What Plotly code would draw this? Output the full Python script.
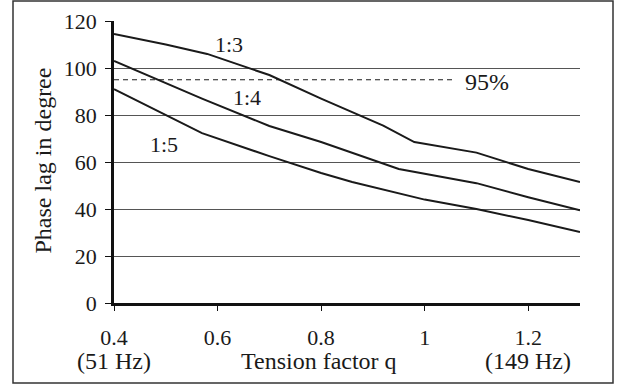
import plotly.graph_objects as go

# Data
q_13 = [0.40, 0.50, 0.58, 0.70, 0.80, 0.92, 0.98, 1.10, 1.20, 1.30]
lag_13 = [114.5, 110.0, 106.0, 97.0, 87.0, 75.5, 68.5, 64.0, 57.0, 51.5]

q_14 = [0.40, 0.57, 0.70, 0.80, 0.95, 1.10, 1.20, 1.30]
lag_14 = [103.0, 87.0, 75.3, 68.5, 57.0, 51.0, 45.0, 39.5]

q_15 = [0.40, 0.57, 0.70, 0.80, 0.86, 1.00, 1.10, 1.20, 1.30]
lag_15 = [91.0, 72.3, 62.5, 55.3, 51.5, 44.0, 40.0, 35.3, 30.2]

ref_q = [0.40, 1.055]
ref_lag = [95, 95]

x_tickvals = [0.4, 0.6, 0.8, 1.0, 1.2]
x_ticktext = ["0.4", "0.6", "0.8", "1", "1.2"]
freq_q = [0.4, 1.2]
freq_text = ["(51 Hz)", "(149 Hz)"]
y_tickvals = [0, 20, 40, 60, 80, 100, 120]

FONT = "Liberation Serif"
LINE = "#1a1a1a"
TXT = "#1a1a1a"

# pixel helpers for paper coordinates (plot area 114..580 x 21..303)
def py(p):
    return (303 - p) / 282

def px(p):
    return (p - 114) / 466

fig = go.Figure()
for xs, ys in [(q_13, lag_13), (q_14, lag_14), (q_15, lag_15)]:
    fig.add_trace(go.Scatter(x=xs, y=ys, mode="lines",
                             line=dict(color=LINE, width=2), showlegend=False))
fig.add_trace(go.Scatter(x=ref_q, y=ref_lag, mode="lines",
                         line=dict(color=LINE, width=1, dash="5px,4px"), showlegend=False))

labels = [("1:3", 0.622, 110, 22), ("1:4", 0.657, 87.4, 22), ("1:5", 0.497, 67.4, 22),
          ("95%", 1.12, 94.0, 24)]
for t, x, y, s in labels:
    fig.add_annotation(x=x, y=y, text=t, showarrow=False,
                       xanchor="center", yanchor="middle",
                       font=dict(family=FONT, size=s, color=TXT))

for q, t in zip(freq_q, freq_text):
    fig.add_annotation(x=q, xref="x", yref="paper", y=py(360.5), text=t, showarrow=False,
                       xanchor="center", yanchor="middle",
                       font=dict(family=FONT, size=24, color=TXT))

fig.add_annotation(xref="paper", yref="paper", x=px(318.5), y=py(360.5),
                   text="Tension factor q", showarrow=False,
                   xanchor="center", yanchor="middle",
                   font=dict(family=FONT, size=24, color=TXT))
fig.add_annotation(xref="paper", yref="paper", x=px(42.5), y=py(161),
                   text="Phase lag in degree", showarrow=False, textangle=-90,
                   xanchor="center", yanchor="middle",
                   font=dict(family=FONT, size=24, color=TXT))

# outer border
fig.add_shape(type="rect", xref="paper", yref="paper",
              x0=px(13), x1=px(613), y0=py(383), y1=py(1),
              line=dict(color="#333333", width=1.5), fillcolor="rgba(0,0,0,0)")

fig.update_xaxes(range=[0.4, 1.3], tickvals=x_tickvals, ticktext=x_ticktext,
                 showgrid=False, zeroline=False, showline=True, linecolor="#111111",
                 linewidth=2.5, ticks="outside", ticklen=5, tickcolor="#111111",
                 automargin=False, ticklabelstandoff=8,
                 tickfont=dict(family=FONT, size=22, color=TXT))
fig.update_yaxes(range=[0, 120], tickvals=y_tickvals, showgrid=True,
                 gridcolor="#555555", gridwidth=1, zeroline=False, showline=True,
                 linecolor="#111111", linewidth=2.5, ticks="outside", ticklen=6,
                 tickcolor="#111111", automargin=False, ticklabelstandoff=4,
                 tickfont=dict(family=FONT, size=22, color=TXT))

fig.update_layout(width=625, height=387, margin=dict(l=114, r=45, t=21, b=84),
                  paper_bgcolor="white", plot_bgcolor="white")

fig.write_html("out.html", config={"displayModeBar": False},
               post_script="document.body.style.margin='0';document.body.style.overflow='hidden';")
